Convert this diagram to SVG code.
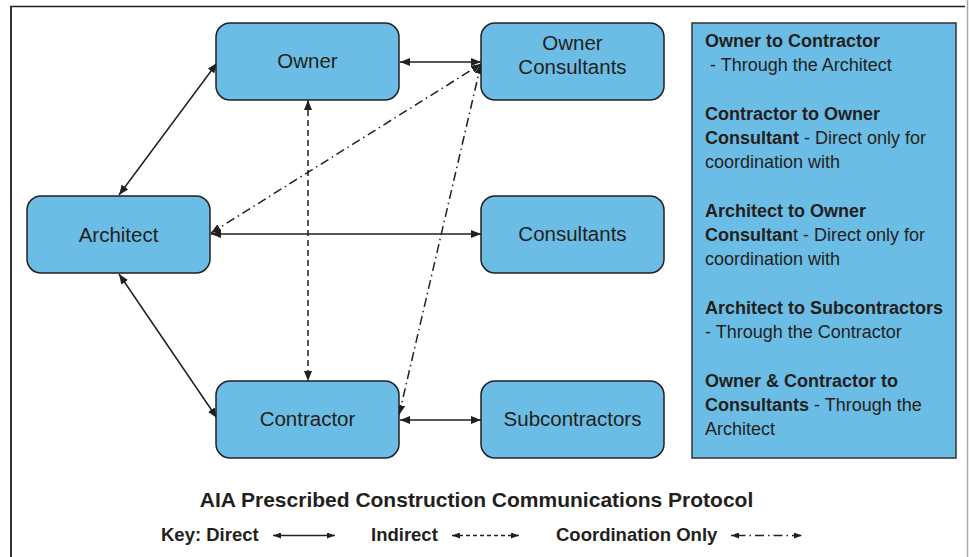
<svg xmlns="http://www.w3.org/2000/svg" width="969" height="557" viewBox="0 0 969 557">
<style>
.node rect{fill:#6bbde5;stroke:#231f20;stroke-width:1.5}
.nt{font-family:"Liberation Sans",Arial,sans-serif;font-size:20.5px;fill:#231f20;text-anchor:middle}
.lt{font-family:"Liberation Sans",Arial,sans-serif;font-size:18px;fill:#231f20}
.b{font-weight:bold}
.c{fill:none;stroke:#231f20;stroke-width:1.5}
.dir{marker-start:url(#ah);marker-end:url(#ah)}
.ind{stroke-dasharray:6,4}
.crd{stroke-dasharray:9,4,1.5,4}
.k{fill:none;stroke:#231f20;stroke-width:1.3;marker-start:url(#ak);marker-end:url(#ak)}
</style>
<defs>
<marker id="ah" viewBox="0 0 10 8" refX="10" refY="4" markerWidth="10" markerHeight="8" markerUnits="userSpaceOnUse" orient="auto-start-reverse"><path d="M0,0 L10,4 L0,8 Z" fill="#231f20"/></marker>
<marker id="ak" viewBox="0 0 8 6" refX="8" refY="3" markerWidth="8" markerHeight="6" markerUnits="userSpaceOnUse" orient="auto-start-reverse"><path d="M0,0 L8,3 L0,6 Z" fill="#231f20"/></marker>
</defs>
<rect width="969" height="557" fill="#fff"/>
<g id="frame">
<line x1="10" y1="6.5" x2="965" y2="6.5" stroke="#231f20" stroke-width="1.5"/>
<line x1="11" y1="6" x2="11" y2="557" stroke="#333" stroke-width="2"/>
<line x1="967.5" y1="0" x2="967.5" y2="557" stroke="#aaa" stroke-width="1.5"/>
</g>
<g id="connectors">
<line class="c dir" x1="400" y1="62" x2="481" y2="62"/>
<line class="c dir" x1="119" y1="195" x2="217" y2="63"/>
<line class="c dir" x1="119" y1="274" x2="217" y2="418"/>
<line class="c dir" x1="211" y1="234" x2="481" y2="234"/>
<line class="c dir" x1="400" y1="420" x2="481" y2="420"/>
<line class="c dir ind" x1="308" y1="100" x2="308" y2="381"/>
<line class="c dir crd" x1="211" y1="233" x2="481" y2="64"/>
<line class="c dir crd" x1="399" y1="415" x2="481" y2="64"/>
</g>
<g id="owner" class="node"><rect x="216" y="23" width="183" height="77" rx="14"/><text class="nt" x="307.5" y="68">Owner</text></g>
<g id="owner-consultants" class="node"><rect x="481" y="23" width="183" height="77" rx="14"/><text class="nt" x="572.5" y="50">Owner</text><text class="nt" x="572.5" y="74">Consultants</text></g>
<g id="architect" class="node"><rect x="27" y="196" width="183" height="77" rx="14"/><text class="nt" x="118.5" y="242">Architect</text></g>
<g id="consultants" class="node"><rect x="481" y="196" width="183" height="77" rx="14"/><text class="nt" x="572.5" y="241">Consultants</text></g>
<g id="contractor" class="node"><rect x="216" y="381" width="183" height="77" rx="14"/><text class="nt" x="307.5" y="426">Contractor</text></g>
<g id="subcontractors" class="node"><rect x="481" y="381" width="183" height="77" rx="14"/><text class="nt" x="572.5" y="426">Subcontractors</text></g>
<g id="legend">
<rect x="692" y="23" width="264" height="435" fill="#6bbde5" stroke="#333" stroke-width="1.5"/>
<text class="lt b" x="705" y="47">Owner to Contractor</text>
<text class="lt" x="710" y="71">- Through the Architect</text>
<text class="lt b" x="705" y="120">Contractor to Owner</text>
<text class="lt" x="705" y="144"><tspan class="b">Consultant</tspan> - Direct only for</text>
<text class="lt" x="705" y="168">coordination with</text>
<text class="lt b" x="705" y="217">Architect to Owner</text>
<text class="lt" x="705" y="241"><tspan class="b">Consultan</tspan>t - Direct only for</text>
<text class="lt" x="705" y="265">coordination with</text>
<text class="lt b" x="705" y="314">Architect to Subcontractors</text>
<text class="lt" x="705" y="338">- Through the Contractor</text>
<text class="lt b" x="705" y="387">Owner &amp; Contractor to</text>
<text class="lt" x="705" y="411"><tspan class="b">Consultants</tspan> - Through the</text>
<text class="lt" x="705" y="435">Architect</text>
</g>
<g id="title">
<text x="476.5" y="507" font-family="'Liberation Sans',Arial,sans-serif" font-size="21" font-weight="bold" fill="#231f20" text-anchor="middle">AIA Prescribed Construction Communications Protocol</text>
</g>
<g id="key">
<text x="161" y="541" font-family="'Liberation Sans',Arial,sans-serif" font-size="18.5" font-weight="bold" fill="#231f20">Key: Direct</text>
<line class="k" x1="273" y1="535.5" x2="335" y2="535.5"/>
<text x="371" y="541" font-family="'Liberation Sans',Arial,sans-serif" font-size="18.5" font-weight="bold" fill="#231f20">Indirect</text>
<line class="k" x1="452" y1="535.5" x2="519" y2="535.5" stroke-dasharray="4,3"/>
<text x="556" y="541" font-family="'Liberation Sans',Arial,sans-serif" font-size="18.5" font-weight="bold" fill="#231f20">Coordination Only</text>
<line class="k" x1="731" y1="535.5" x2="802" y2="535.5" stroke-dasharray="1.5,4,9,4"/>
</g>
</svg>
